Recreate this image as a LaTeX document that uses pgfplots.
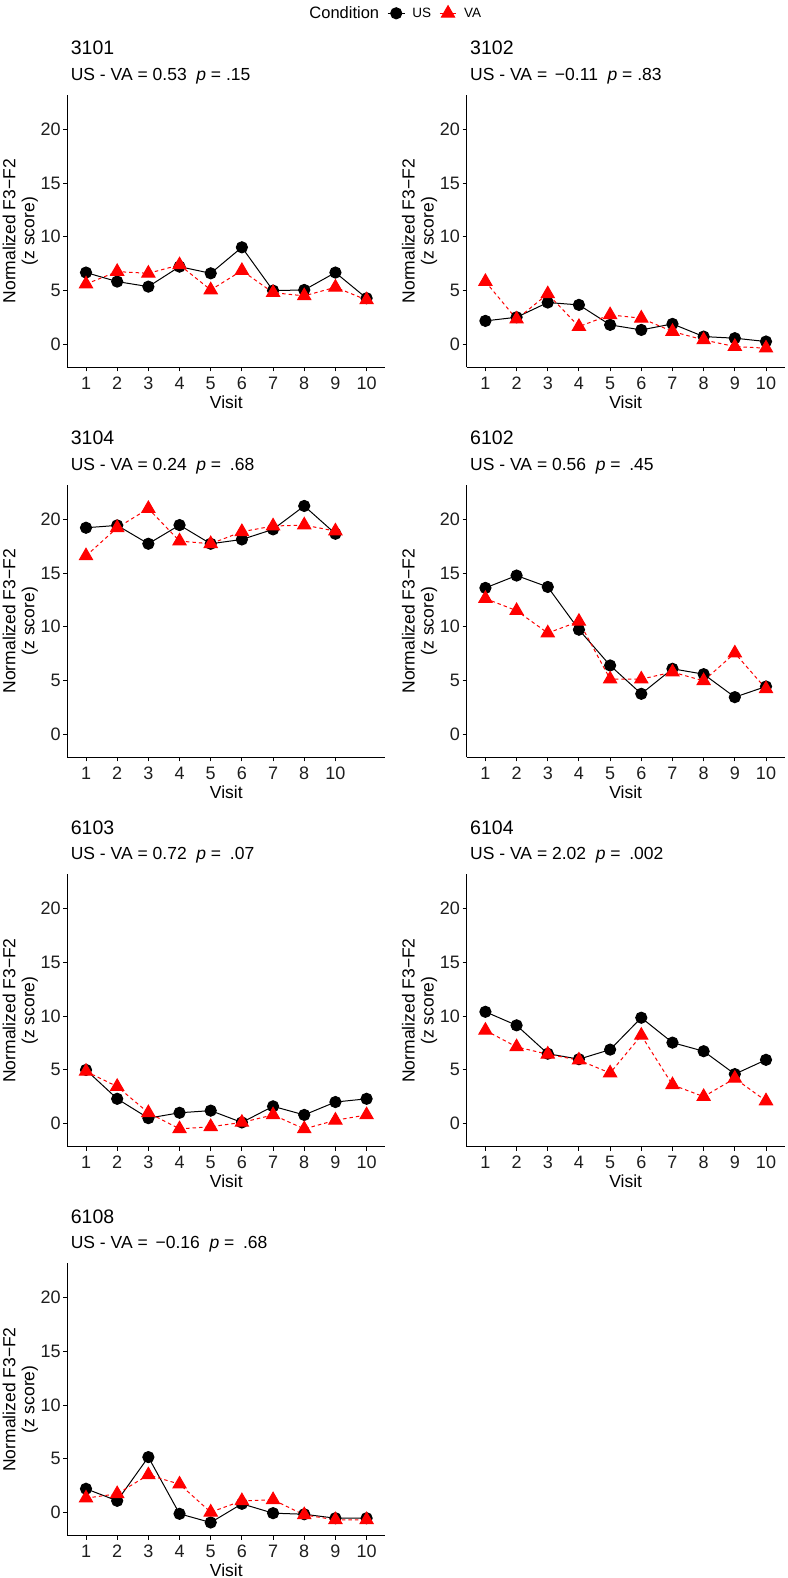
\documentclass[border=0pt]{standalone}
\usepackage{fontspec}
\setmainfont{Liberation Sans}
\usepackage{pgfplots}
\pgfplotsset{compat=1.18}
\definecolor{vared}{RGB}{255,0,0}
\definecolor{txtgrey}{RGB}{30,30,30}

\pgfplotsset{
  panel/.style={
    scale only axis, width=318pt, height=272.3pt,
    xmin=0.4, xmax=10.6, ymin=-2.15, ymax=23.2,
    axis x line*=bottom, axis y line*=left,
    axis line style={-, line width=0.9pt, black},
    tick align=outside, major tick length=4pt,
    every tick/.style={black, line width=0.9pt},
    xtick={1,...,10}, ytick={0,5,10,15,20},
    tick label style={font=\fontsize{18}{20}\selectfont, text=txtgrey},
    xticklabel style={yshift=-2pt},
    yticklabel style={inner sep=2.5pt},
    /pgf/number format/assume math mode=true,
    xlabel={Visit},
    ylabel={Normalized F3−F2\\(z score)},
    label style={font=\fontsize{17.5}{19}\selectfont},
    xlabel style={at={(axis description cs:0.5,-0.1506)}, anchor=base},
    ylabel style={align=center, at={(axis description cs:-0.148,0.5)}, anchor=center},
    clip=false,
  },
  us/.style={black, line width=1pt, solid, mark=*, mark size=5.6pt, mark options={solid, fill=black}},
  va/.style={vared, line width=1pt, dash pattern=on 3.5pt off 3pt, mark=triangle*, mark size=7.6pt, mark options={solid, fill=vared, draw=vared}},
}
\newcommand{\ptitle}[2]{%
  \node[anchor=base west, font=\fontsize{19.5}{22}\selectfont] at (axis description cs:0,1.147) {#1};
  \node[anchor=base west, font=\fontsize{17.5}{20}\selectfont] at (axis description cs:0,1.055) {#2};}

\begin{document}
\begin{tikzpicture}
\useasboundingbox (0,0) rectangle (787pt,-1578pt);

% ---- 3101
\begin{axis}[panel, at={(67.3pt,-95pt)}, anchor=north west,
  legend style={at={(axis description cs:1.0235,1.30)}, anchor=center, draw=none, fill=none,
    font=\fontsize{13.5}{15}\selectfont,
    /tikz/every odd column/.append style={column sep=5pt},
    /tikz/every even column/.append style={column sep=6pt}},
  legend columns=-1]
\addlegendimage{empty legend}\addlegendentry{\fontsize{16.5}{18}\selectfont Condition}
\addplot[us] coordinates {(1,6.67)(2,5.83)(3,5.36)(4,7.22)(5,6.6)(6,9.02)(7,4.99)(8,5.05)(9,6.67)(10,4.28)};
\addlegendentry{US}
\addplot[va] coordinates {(1,5.6)(2,6.76)(3,6.6)(4,7.38)(5,5.05)(6,6.85)(7,4.8)(8,4.5)(9,5.3)(10,4.12)};
\addlegendentry{VA}
\ptitle{3101}{US - VA = 0.53\hspace{0.55em}\textit{p} = .15}
\end{axis}

% ---- 3102
\begin{axis}[panel, at={(466.7pt,-95pt)}, anchor=north west]
\addplot[us] coordinates {(1,2.17)(2,2.51)(3,3.88)(4,3.66)(5,1.8)(6,1.33)(7,1.89)(8,0.71)(9,0.56)(10,0.25)};
\addplot[va] coordinates {(1,5.83)(2,2.33)(3,4.68)(4,1.64)(5,2.73)(6,2.42)(7,1.18)(8,0.4)(9,-0.22)(10,-0.37)};
\ptitle{3102}{US - VA = \,−0.11\hspace{0.55em}\textit{p} = .83}
\end{axis}

% ---- 3104
\begin{axis}[panel, at={(67.3pt,-485pt)}, anchor=north west,
  xtick={1,...,9}, xticklabels={1,2,3,4,5,6,7,8,10}]
\addplot[us] coordinates {(1,19.22)(2,19.44)(3,17.73)(4,19.47)(5,17.73)(6,18.13)(7,19.07)(8,21.25)(9,18.66)};
\addplot[va] coordinates {(1,16.6)(2,19.22)(3,21.0)(4,17.98)(5,17.73)(6,18.85)(7,19.38)(8,19.47)(9,18.91)};
\ptitle{3104}{US - VA = 0.24\hspace{0.55em}\textit{p} =\hspace{0.5em}.68}
\end{axis}

% ---- 6102
\begin{axis}[panel, at={(466.7pt,-485pt)}, anchor=north west]
\addplot[us] coordinates {(1,13.62)(2,14.77)(3,13.71)(4,9.73)(5,6.4)(6,3.76)(7,6.09)(8,5.59)(9,3.45)(10,4.44)};
\addplot[va] coordinates {(1,12.63)(2,11.5)(3,9.42)(4,10.5)(5,5.13)(6,5.13)(7,5.78)(8,4.97)(9,7.55)(10,4.22)};
\ptitle{6102}{US - VA = 0.56\hspace{0.55em}\textit{p} =\hspace{0.5em}.45}
\end{axis}

% ---- 6103
\begin{axis}[panel, at={(67.3pt,-874.3pt)}, anchor=north west]
\addplot[us] coordinates {(1,4.99)(2,2.3)(3,0.5)(4,1.0)(5,1.2)(6,0.1)(7,1.6)(8,0.8)(9,2.0)(10,2.3)};
\addplot[va] coordinates {(1,4.85)(2,3.44)(3,1.0)(4,-0.5)(5,-0.3)(6,0.1)(7,0.8)(8,-0.5)(9,0.3)(10,0.8)};
\ptitle{6103}{US - VA = 0.72\hspace{0.55em}\textit{p} =\hspace{0.5em}.07}
\end{axis}

% ---- 6104
\begin{axis}[panel, at={(466.7pt,-874.3pt)}, anchor=north west]
\addplot[us] coordinates {(1,10.4)(2,9.14)(3,6.5)(4,5.99)(5,6.88)(6,9.85)(7,7.53)(8,6.73)(9,4.6)(10,5.93)};
\addplot[va] coordinates {(1,8.67)(2,7.13)(3,6.45)(4,5.9)(5,4.7)(6,8.2)(7,3.6)(8,2.5)(9,4.2)(10,2.1)};
\ptitle{6104}{US - VA = 2.02\hspace{0.55em}\textit{p} =\hspace{0.5em}.002}
\end{axis}

% ---- 6108
\begin{axis}[panel, at={(67.3pt,-1263.3pt)}, anchor=north west]
\addplot[us] coordinates {(1,2.21)(2,1.09)(3,5.16)(4,-0.12)(5,-0.93)(6,0.81)(7,-0.06)(8,-0.16)(9,-0.53)(10,-0.53)};
\addplot[va] coordinates {(1,1.34)(2,1.74)(3,3.5)(4,2.64)(5,0.03)(6,1.09)(7,1.18)(8,-0.22)(9,-0.68)(10,-0.68)};
\ptitle{6108}{US - VA = \,−0.16\hspace{0.55em}\textit{p} =\hspace{0.5em}.68}
\end{axis}

\end{tikzpicture}
\end{document}
